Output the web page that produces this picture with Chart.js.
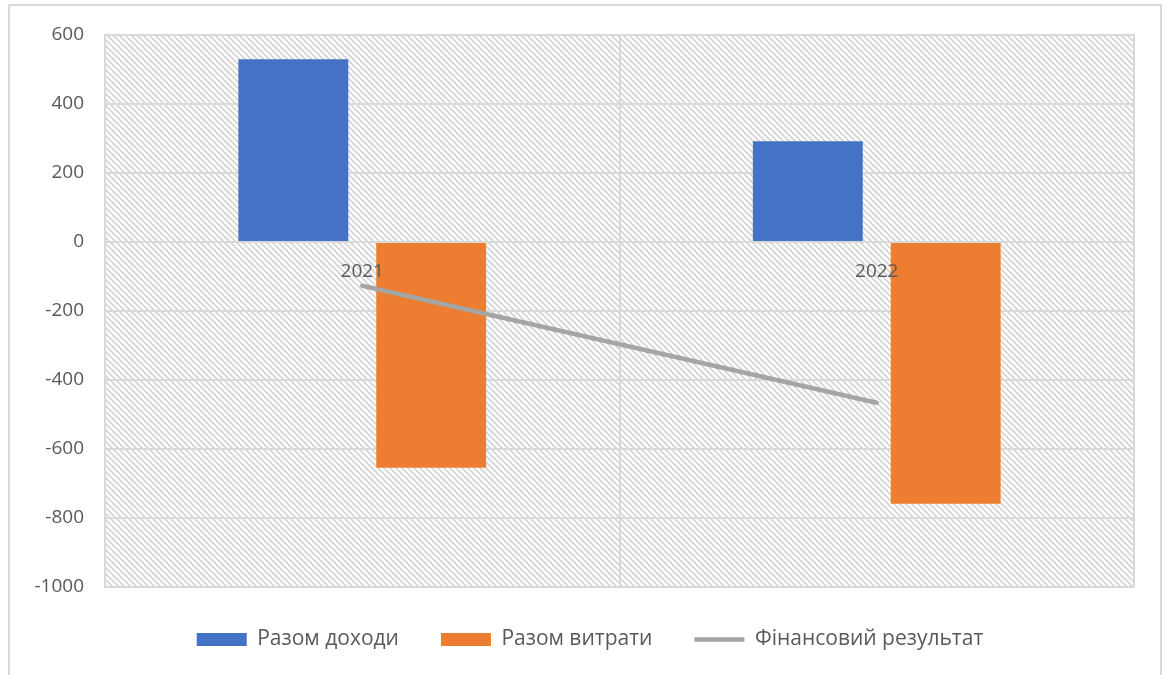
<!DOCTYPE html>
<html>
<head>
<meta charset="utf-8">
<script src="https://cdn.jsdelivr.net/npm/chart.js@4"></script>
<style>
  html, body { margin: 0; padding: 0; background: #fff; }
  #wrap { width: 1162px; height: 675px; }
</style>
</head>
<body>
<div id="wrap"><canvas id="myChart" width="1162" height="675"></canvas></div>
<script>
var years = ['2021', '2022'];
var income = [530, 292];
var expenses = [-654, -759];
var result = [-127, -466];
var yTicks = [600, 400, 200, 0, -200, -400, -600, -800, -1000];

var FONT = "'Open Sans', 'Noto Sans', sans-serif";

// diagonal hatch like the Excel plot area fill
function makeHatch() {
    var c = document.createElement('canvas');
    c.width = 6;
    c.height = 6;
    var g = c.getContext('2d');
    g.fillStyle = '#ffffff';
    g.fillRect(0, 0, 6, 6);
    g.strokeStyle = '#d4d4d4';
    g.lineWidth = 1.6;
    g.beginPath();
    g.moveTo(-1, -1); g.lineTo(7, 7);
    g.moveTo(-1, 5); g.lineTo(1, 7);
    g.moveTo(5, -1); g.lineTo(7, 1);
    g.stroke();
    return g.createPattern(c, 'repeat');
}

var frame = {
    id: 'frame',
    afterLayout: function (chart) {
        // legend in the reference is centred on the whole frame, not the plot
        if (chart.legend) {
            chart.legend.left += 23;
            chart.legend.right += 23;
        }
    },
    beforeDraw: function (chart) {
        var ctx = chart.ctx, a = chart.chartArea;
        ctx.save();
        ctx.fillStyle = '#ffffff';
        ctx.fillRect(0, 0, chart.width, chart.height);
        ctx.strokeStyle = '#d9d9d9';
        ctx.lineWidth = 2;
        ctx.strokeRect(9, 5, 1152, 700);
        ctx.fillStyle = makeHatch();
        ctx.fillRect(a.left, a.top, a.right - a.left, a.bottom - a.top);
        ctx.restore();
    },
    afterDatasetsDraw: function (chart) {
        var ctx = chart.ctx, a = chart.chartArea;
        ctx.save();
        ctx.strokeStyle = '#d9d9d9';
        ctx.lineWidth = 2;
        ctx.strokeRect(a.left, a.top, a.right - a.left, a.bottom - a.top);
        ctx.restore();
    }
};

var ctx = document.getElementById('myChart').getContext('2d');

var config = {
    type: 'bar',
    data: {
        labels: years,
        datasets: [{
            type: 'line',
            label: 'Фінансовий результат',
            data: result,
            borderColor: '#a5a5a5',
            backgroundColor: '#a5a5a5',
            borderWidth: 4.5,
            borderCapStyle: 'round',
            pointRadius: 0,
            pointStyle: 'line',
            order: 0
        }, {
            label: 'Разом доходи',
            data: income,
            backgroundColor: '#4472c4',
            pointStyle: 'rect',
            order: 1
        }, {
            label: 'Разом витрати',
            data: expenses,
            backgroundColor: '#ed7d31',
            pointStyle: 'rect',
            order: 1
        }]
    },
    options: {
        responsive: false,
        animation: false,
        categoryPercentage: 0.536,
        barPercentage: 0.797,
        layout: {
            padding: { left: 0, right: 28, top: 35, bottom: 15 }
        },
        plugins: {
            title: { display: false },
            tooltip: { enabled: false },
            legend: {
                position: 'bottom',
                labels: {
                    usePointStyle: true,
                    pointStyleWidth: 50,
                    boxHeight: 13,
                    padding: 42,
                    color: '#595959',
                    font: { family: FONT, size: 21 },
                    sort: function (a, b) {
                        var rank = { 1: 0, 2: 1, 0: 2 };
                        return rank[a.datasetIndex] - rank[b.datasetIndex];
                    }
                }
            }
        },
        scales: {
            x: {
                position: { y: 0 },
                grid: { offset: true, color: '#d9d9d9', lineWidth: 2, drawTicks: false },
                border: { display: false },
                ticks: {
                    z: 1,
                    color: '#595959',
                    padding: 18,
                    font: { family: FONT, size: 19 }
                }
            },
            y: {
                min: -1000,
                max: 600,
                afterFit: function (scale) { scale.width = 105; },
                afterBuildTicks: function (scale) {
                    scale.ticks = yTicks.map(function (v) { return { value: v }; });
                },
                grid: { color: '#d9d9d9', lineWidth: 2, drawTicks: false },
                border: { display: false },
                ticks: {
                    color: '#595959',
                    padding: 21,
                    font: { family: FONT, size: 19 },
                    callback: function (v) { return String(v); }
                }
            }
        }
    },
    plugins: [frame]
};

var myChart = new Chart(ctx, config);
</script>
</body>
</html>
